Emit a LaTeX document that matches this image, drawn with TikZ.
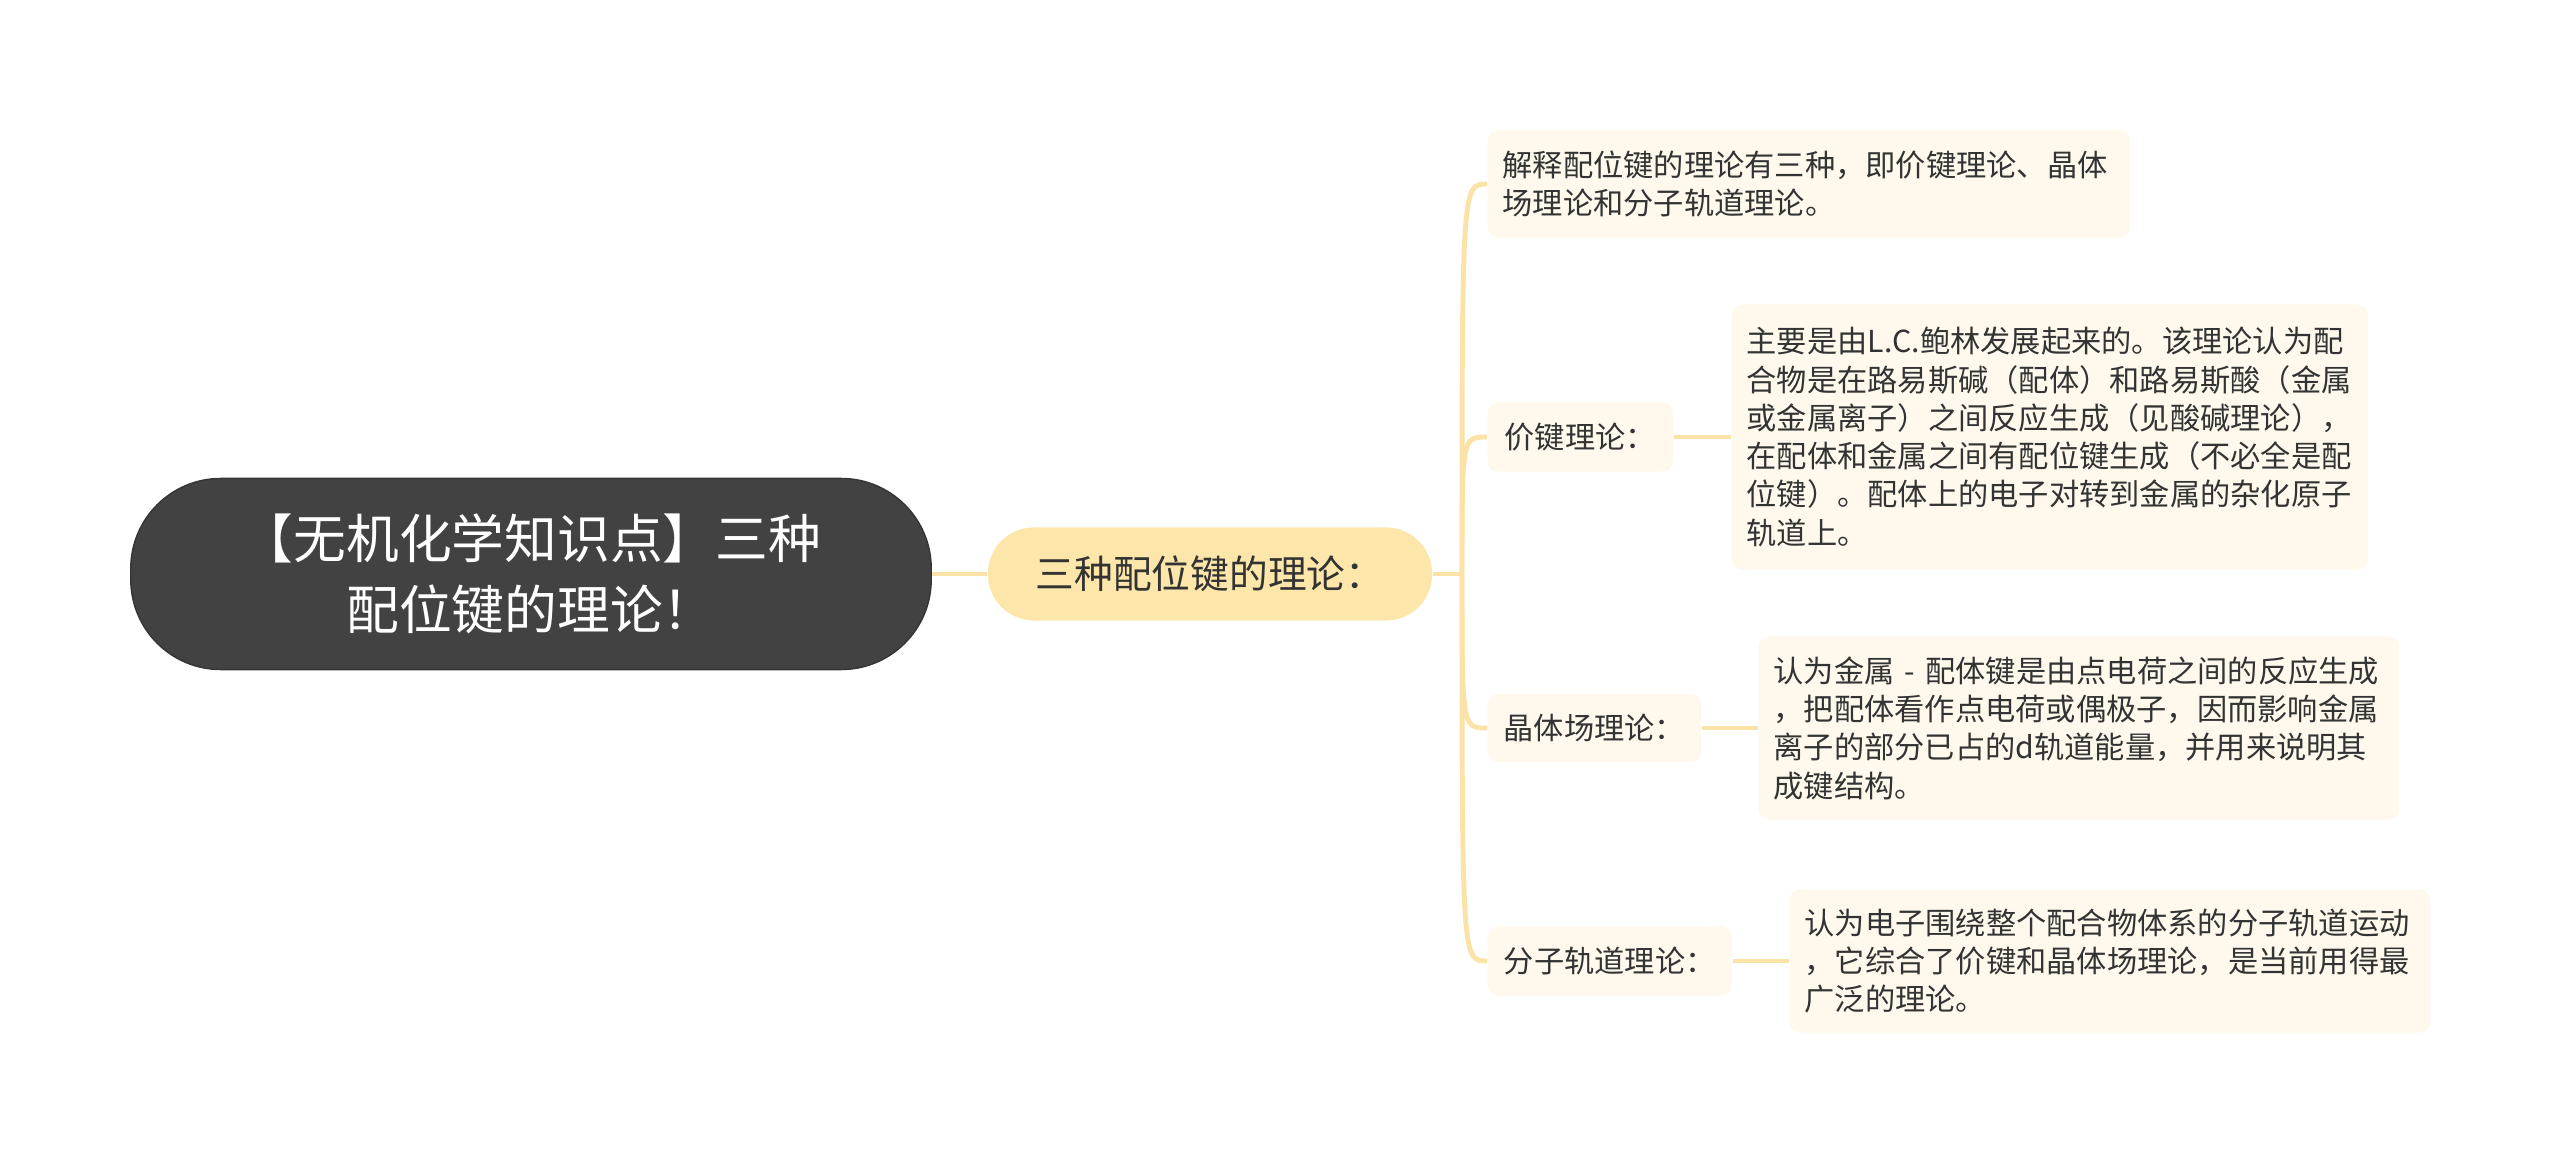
\documentclass[tikz,border=0pt]{standalone}
\usepackage{fontspec}
\newfontfamily\cjk{Noto Sans CJK SC}
\usepackage{tikz}
\usetikzlibrary{positioning}
\definecolor{rootgrey}{HTML}{424242}
\definecolor{mainyellow}{HTML}{FDE6AA}
\definecolor{linkyellow}{HTML}{FBE3A8}
\definecolor{cream}{HTML}{FEF9EC}
\definecolor{txt}{HTML}{333333}
\tikzset{
  rootbox/.style={fill=rootgrey,draw=rootgrey!80!black,text=white,rounded corners=0.9cm,
    minimum width=8cm,minimum height=1.91cm,align=center,font=\cjk\fontsize{15pt}{20pt}\selectfont},
  mainbox/.style={fill=mainyellow,rounded corners=0.46cm,minimum width=4.44cm,minimum height=0.93cm,
    text=txt,font=\cjk\fontsize{11pt}{13pt}\selectfont},
  subbox/.style={fill=cream,rounded corners=0.1cm,text=txt,align=left,anchor=west,
    inner xsep=0.15cm,font=\cjk\fontsize{8.6pt}{10.9pt}\selectfont},
  link/.style={draw=linkyellow,line width=1.4pt}
}
\begin{document}
\begin{tikzpicture}[x=0.01cm,y=-0.01cm]
\useasboundingbox (0,0) rectangle (2560,1167);
\node[rootbox] (R) at (531,574) {【无机化学知识点】三种\\配位键的理论！};
\node[mainbox] (M) at (1210,574) {三种配位键的理论：};
\coordinate (F) at (1462,574);
\node[subbox,text width=6.12cm,minimum height=1.07cm] (A) at (1487,184)
  {解释配位键的理论有三种，即价键理论、晶体\\场理论和分子轨道理论。};
\node[subbox,minimum width=1.85cm,minimum height=0.69cm] (B) at (1487,437) {价键理论：};
\node[subbox,minimum width=2.13cm,minimum height=0.68cm] (C) at (1487,728) {晶体场理论：};
\node[subbox,minimum width=2.44cm,minimum height=0.69cm] (D) at (1487,961) {分子轨道理论：};
\node[subbox,text width=6.06cm,minimum height=2.65cm] (B1) at (1731,437)
  {主要是由L.C.鲍林发展起来的。该理论认为配\\合物是在路易斯碱（配体）和路易斯酸（金属\\或金属离子）之间反应生成（见酸碱理论），\\在配体和金属之间有配位键生成（不必全是配\\位键）。配体上的电子对转到金属的杂化原子\\轨道上。};
\node[subbox,text width=6.1cm,minimum height=1.83cm] (C1) at (1758,728)
  {认为金属~-~配体键是由点电荷之间的反应生成\\，把配体看作点电荷或偶极子，因而影响金属\\离子的部分已占的d轨道能量，并用来说明其\\成键结构。};
\node[subbox,text width=6.1cm,minimum height=1.43cm] (D1) at (1789,961)
  {认为电子围绕整个配合物体系的分子轨道运动\\，它综合了价键和晶体场理论，是当前用得最\\广泛的理论。};
\draw[link] (R.east) -- (M.west);
\draw[link] (M.east) -- (F);
\draw[link] (F) .. controls (F |- A.west) .. (A.west);
\draw[link] (F) .. controls (F |- B.west) .. (B.west);
\draw[link] (F) .. controls (F |- C.west) .. (C.west);
\draw[link] (F) .. controls (F |- D.west) .. (D.west);
\draw[link] (B) -- (B1);
\draw[link] (C) -- (C1);
\draw[link] (D) -- (D1);
\end{tikzpicture}
\end{document}
